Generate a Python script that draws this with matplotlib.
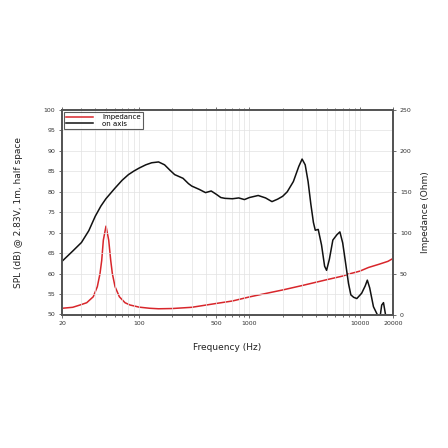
import numpy as np
import matplotlib
matplotlib.use('Agg')
import matplotlib.pyplot as plt
from matplotlib.ticker import FixedLocator, FixedFormatter, NullFormatter, LogLocator

# on-axis SPL (dB), left axis
spl_freq = [20, 25, 30, 35, 40, 45, 50, 60, 70, 80, 90, 100, 115, 130, 150, 170,
            190, 210, 250, 280, 300, 350, 400, 450, 500, 550, 600, 700, 800, 900,
            1000, 1200, 1400, 1600, 1800, 2000, 2200, 2500, 2800, 3000, 3200, 3400,
            3600, 3800, 3950, 4200, 4500, 4800, 5000, 5300, 5700, 6200, 6600, 7000,
            7400, 7900, 8300, 8800, 9400, 10400, 11200, 11700, 12300, 13300, 14400,
            15100, 15800, 16400, 17100, 17800]
spl_db = [63.0, 65.5, 67.6, 70.5, 74.0, 76.5, 78.3, 80.8, 82.8, 84.2, 85.1, 85.8,
          86.6, 87.1, 87.3, 86.6, 85.3, 84.2, 83.3, 82.0, 81.4, 80.6, 79.8, 80.2,
          79.4, 78.6, 78.4, 78.3, 78.5, 78.1, 78.6, 79.1, 78.5, 77.6, 78.2, 78.9,
          80.0, 82.5, 86.2, 88.0, 86.6, 82.5, 77.0, 72.5, 70.6, 70.8, 67.0, 61.8,
          60.8, 63.5, 68.2, 69.5, 70.2, 67.5, 63.0, 57.6, 54.8, 54.2, 53.9, 55.2,
          57.0, 58.4, 56.5, 51.9, 50.0, 48.5, 52.3, 52.9, 50.0, 47.5]

# impedance (Ohm), right axis
imp_freq = [20, 25, 29.1, 33.5, 38.4, 41.8, 44.2, 45.8, 47.4, 50.1,
            53, 55.3, 57.2, 60.5, 66.2, 74.5, 82.7, 100, 125, 150, 200, 300, 500,
            700, 1000, 1500, 2000, 3000, 5000, 7000, 7720, 10000, 12000, 15000,
            18000, 20000]
imp_ohm = [7.6, 8.8, 11.6, 14.4, 21.7, 34, 50, 66, 91, 108, 91, 66, 50,
           34, 21.7, 14.4, 11.6, 9.0, 7.6, 7.0, 7.3, 8.8, 13.5, 16.5, 21.5, 26.5,
           30, 35.4, 42.5, 47, 49, 53, 57.5, 61.5, 65, 68.5]

xticks = [20, 100, 500, 1000, 10000, 20000]
spl_ticks = list(range(50, 101, 5))
imp_ticks = list(range(0, 251, 50))

fig = plt.figure(figsize=(4.48, 4.48), dpi=100)
ax = fig.add_axes([62 / 448, 1 - 314.5 / 448, 331 / 448, 204.5 / 448])
ax2 = ax.twinx()

spine_c = '#555555'
ax.set_xscale('log')
ax.set_xlim(20, 20000)
ax.set_ylim(50, 100)
ax2.set_ylim(0, 250)

ax.xaxis.set_major_locator(FixedLocator(xticks))
ax.xaxis.set_major_formatter(FixedFormatter([str(t) for t in xticks]))
ax.xaxis.set_minor_locator(LogLocator(base=10, subs=np.arange(1, 10)))
ax.xaxis.set_minor_formatter(NullFormatter())
ax.set_yticks(spl_ticks)
ax2.set_yticks(imp_ticks)

ax.grid(True, which='both', axis='x', color='#e2e2e2', lw=0.5)
ax.grid(True, which='major', axis='y', color='#e2e2e2', lw=0.5)
ax.set_axisbelow(True)

l_imp, = ax2.plot(imp_freq, imp_ohm, color='#d8262b', lw=1.1)
l_spl, = ax.plot(spl_freq, spl_db, color='#111111', lw=1.1)
ax.set_zorder(ax2.get_zorder() + 1)
ax.patch.set_visible(False)

for a in (ax, ax2):
    for s in a.spines.values():
        s.set_color(spine_c)
        s.set_linewidth(1.4)
    a.tick_params(which='both', labelsize=4.5, colors='#333333', length=2, width=0.5)
    a.tick_params(which='minor', length=1.5)
ax.tick_params(axis='x', which='both', top=True, pad=3)
ax.tick_params(axis='y', pad=3)
ax2.tick_params(axis='y', pad=3)

ax.set_xlabel('Frequency (Hz)', fontsize=6.5, color='#222222', labelpad=12)
ax.set_ylabel('SPL (dB) @ 2.83V, 1m, half space', fontsize=6.5, color='#222222', labelpad=15)
ax2.set_ylabel('Impedance (Ohm)', fontsize=6.5, color='#222222', labelpad=7)

leg = ax.legend([l_imp, l_spl], ['Impedance', 'on axis'], loc='upper left',
                fontsize=5, frameon=True, fancybox=False, handlelength=3.9,
                borderaxespad=0.25, borderpad=0.35, labelspacing=0.1,
                handletextpad=1.3)
leg.get_frame().set_edgecolor('#333333')
leg.get_frame().set_linewidth(0.8)

plt.savefig('out.png', dpi=100)
